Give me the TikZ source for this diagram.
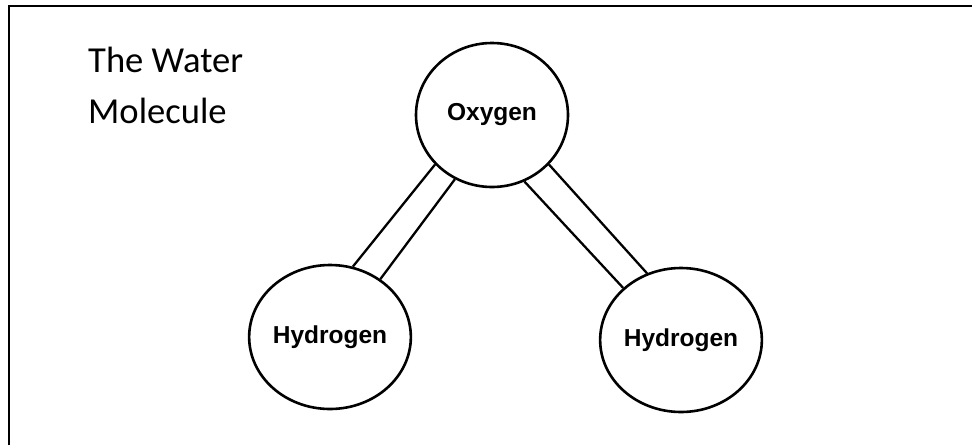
\documentclass[tikz,border=0pt]{standalone}
\usepackage{fontspec}
\setmainfont{Carlito}
\newfontfamily\labelfont{Liberation Sans}
\usetikzlibrary{shapes.geometric}
\tikzset{
  atom/.style={ellipse, draw=black, line width=2.6pt, minimum width=152pt, minimum height=144pt, inner sep=0pt,
    font=\labelfont\bfseries\fontsize{24.5}{28}\selectfont},
  bond/.style={draw=black, line width=2.3pt},
  frame/.style={draw=black, line width=2.4pt}
}
\begin{document}
\begin{tikzpicture}[x=1pt,y=-1pt]
\useasboundingbox (0,0) rectangle (972,445);
\coordinate (fa) at (9,445);
\coordinate (fb) at (9,6);
\coordinate (fc) at (972,6);
\draw[frame] (fa) -- (fb) -- (fc);
\node[anchor=base west, inner sep=0pt, align=left, font=\fontsize{36.6}{51}\selectfont] (title) at (88,123) {The Water\\Molecule};
\node[atom] (O) at (492,115) {Oxygen};
\node[atom] (H1) at (330,337) {Hydrogen};
\node[atom] (H2) at (681,340) {Hydrogen};
\draw[bond] (O.221) -- (H1.72);
\draw[bond] (O.240) -- (H1.49);
\draw[bond] (O.296) -- (H2.138);
\draw[bond] (O.319) -- (H2.117);
\end{tikzpicture}
\end{document}
